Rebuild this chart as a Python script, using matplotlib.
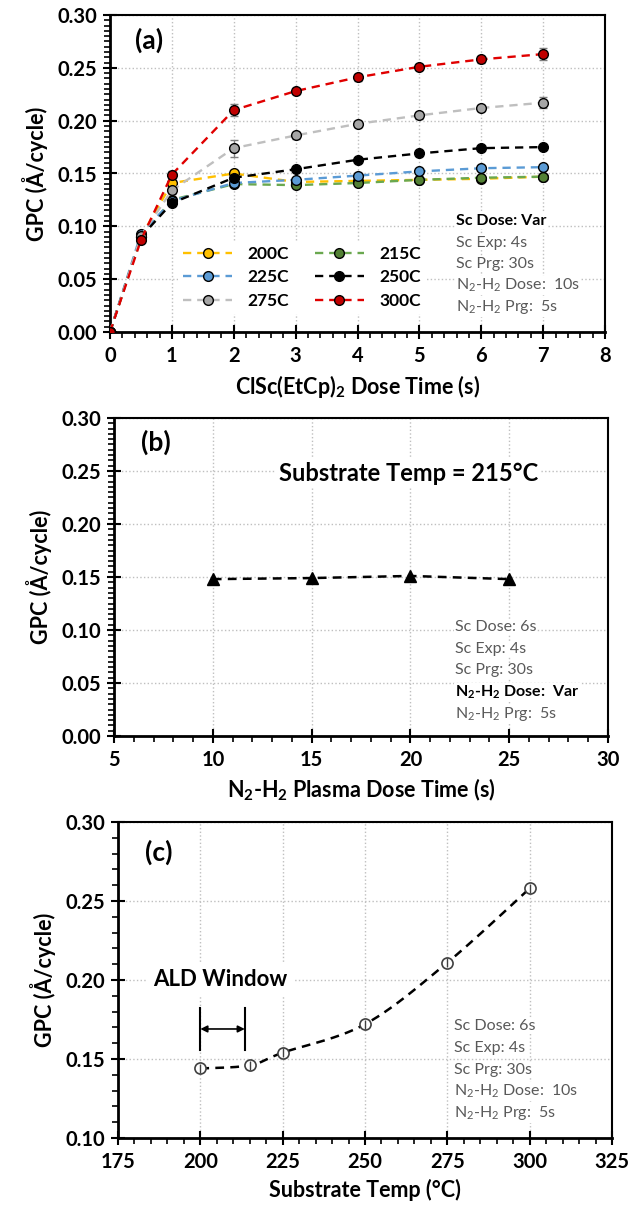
import numpy as np
import matplotlib
matplotlib.use("Agg")
import matplotlib.pyplot as plt
from matplotlib.ticker import MultipleLocator, FormatStrFormatter

plt.rcParams['font.family'] = ['Lato', 'DejaVu Sans']
plt.rcParams['mathtext.fontset'] = 'custom'
plt.rcParams['mathtext.rm'] = 'Lato'
plt.rcParams['mathtext.bf'] = 'Lato:bold'
plt.rcParams['mathtext.it'] = 'Lato:italic'

# ---- panel (a): GPC vs Sc dose time ----
dose_time = [0, 0.5, 1, 2, 3, 4, 5, 6, 7]
temps_a = ['200C', '215C', '225C', '250C', '275C', '300C']
gpc_200 = [0, 0.090, 0.141, 0.150, 0.142, 0.143, 0.144, 0.145, 0.147]
gpc_215 = [0, 0.090, 0.125, 0.140, 0.139, 0.141, 0.144, 0.146, 0.147]
gpc_225 = [0, 0.093, 0.124, 0.141, 0.144, 0.148, 0.152, 0.155, 0.156]
gpc_250 = [0, 0.090, 0.122, 0.146, 0.154, 0.163, 0.169, 0.174, 0.175]
gpc_275 = [0, 0.091, 0.134, 0.174, 0.186, 0.197, 0.205, 0.212, 0.217]
gpc_300 = [0, 0.087, 0.149, 0.210, 0.228, 0.241, 0.251, 0.258, 0.263]
err_275 = [0, 0.002, 0.003, 0.008, 0.003, 0.003, 0.003, 0.003, 0.005]
err_300 = [0, 0.002, 0.003, 0.006, 0.003, 0.003, 0.003, 0.003, 0.006]
err_small = [0, 0.002, 0.002, 0.002, 0.002, 0.002, 0.002, 0.002, 0.002]

# ---- panel (b): GPC vs plasma dose time ----
plasma_time = [10, 15, 20, 25]
gpc_plasma = [0.148, 0.149, 0.151, 0.148]

# ---- panel (c): GPC vs substrate temperature ----
sub_temp = [200, 215, 225, 250, 275, 300]
gpc_temp = [0.144, 0.146, 0.154, 0.172, 0.211, 0.258]
err_temp = [0.003, 0.003, 0.003, 0.003, 0.003, 0.003]
ald_window = (200, 213.5)

line_colors = ['#FFC000', '#6AA84F', '#5B9BD5', '#000000', '#BFBFBF', '#E00000']
face_colors = ['#FFC000', '#538135', '#5B9BD5', '#000000', '#A6A6A6', '#C00000']

TXT_GRAY = '#595959'
TICK_FS = 14.5
LABEL_FS = 15.5


def smooth_curve(x, y, n=40):
    # Excel-like smoothed line (Catmull-Rom through the points)
    p = np.column_stack([x, y]).astype(float)
    out = []
    for i in range(len(p) - 1):
        p0 = p[max(i - 1, 0)]
        p1, p2 = p[i], p[i + 1]
        p3 = p[min(i + 2, len(p) - 1)]
        c1 = p1 + (p2 - p0) / 6
        c2 = p2 - (p3 - p1) / 6
        t = np.linspace(0, 1, n)[:, None]
        seg = ((1 - t) ** 3) * p1 + 3 * ((1 - t) ** 2) * t * c1 + 3 * (1 - t) * t ** 2 * c2 + t ** 3 * p2
        out.append(seg)
    out = np.vstack(out)
    return out[:, 0], out[:, 1]


def style_axes(ax, xmin, xmax, xmaj, xmin_step, ymin, ymax, ymin_step):
    ax.set_xlim(xmin, xmax)
    ax.set_ylim(ymin, ymax)
    ax.xaxis.set_major_locator(MultipleLocator(xmaj))
    ax.xaxis.set_minor_locator(MultipleLocator(xmin_step))
    ax.yaxis.set_major_locator(MultipleLocator(0.05))
    ax.yaxis.set_minor_locator(MultipleLocator(ymin_step))
    ax.yaxis.set_major_formatter(FormatStrFormatter('%.2f'))
    ax.grid(True, which='major', linestyle=':', color='#BFBFBF', linewidth=1.0)
    ax.set_axisbelow(True)
    for s in ax.spines.values():
        s.set_linewidth(1.5)
        s.set_color('black')
    ax.spines['left'].set_linewidth(2)
    ax.spines['bottom'].set_linewidth(2)
    ax.tick_params(which='major', direction='inout', length=10, width=1.5,
                   labelsize=TICK_FS)
    ax.tick_params(axis='y', which='major', pad=4)
    ax.tick_params(axis='x', which='major', pad=5)
    ax.tick_params(which='minor', direction='out', length=4, width=1.2)
    for lab in ax.get_xticklabels() + ax.get_yticklabels():
        lab.set_fontweight('bold')
    ax.set_ylabel('GPC (Å/cycle)', fontsize=LABEL_FS, fontweight='bold', labelpad=7)


def recipe(ax, x, y0, lines, step=0.068):
    for i, (txt, bold) in enumerate(lines):
        ax.text(x, y0 - i * step, txt, transform=ax.transAxes, fontsize=11.5,
                color='black' if bold else TXT_GRAY,
                fontweight='bold' if bold else 'normal', va='center', ha='left',
                bbox=dict(facecolor='white', edgecolor='none', pad=0.5), zorder=5)


fig = plt.figure(figsize=(6.31, 12.09), dpi=100)
W, H = 631, 1209

def rect(l, r, t, b):
    return [l / W, 1 - b / H, (r - l) / W, (b - t) / H]

# ---------------- (a)
ax1 = fig.add_axes(rect(110, 605, 15, 332))
style_axes(ax1, 0, 8, 1, 0.2, 0, 0.30, 0.005)
series = [gpc_200, gpc_215, gpc_225, gpc_250, gpc_275, gpc_300]
errs = [err_small, err_small, err_small, err_small, err_275, err_300]
handles = []
for i, (name, yv) in enumerate(zip(temps_a, series)):
    ax1.errorbar(dose_time, yv, yerr=errs[i], fmt='none', ecolor='#7F7F7F',
                 elinewidth=1, capsize=3, zorder=2 + i)
    h, = ax1.plot(dose_time, yv, linestyle='--', dashes=(3.5, 2.5), lw=1.7,
                  color=line_colors[i], marker='o', markersize=7,
                  markerfacecolor=face_colors[i], markeredgecolor='black',
                  markeredgewidth=1, label=name, zorder=3 + i)
    handles.append(h)
order = [0, 2, 4, 1, 3, 5]
leg = ax1.legend([handles[k] for k in order], [temps_a[k] for k in order], ncol=2,
                 loc='lower left', bbox_to_anchor=(0.12, 0.03), frameon=True,
                 prop={'weight': 'bold', 'size': 12.5}, handlelength=2.8,
                 columnspacing=1.5, labelspacing=0.42, handletextpad=0.9,
                 borderpad=0.3)
leg.get_frame().set_edgecolor('none')
leg.get_frame().set_facecolor('white')
leg.get_frame().set_alpha(1)
ax1.text(0.05, 0.92, '(a)', transform=ax1.transAxes, fontsize=19,
         fontweight='bold', va='center')
recipe(ax1, 0.70, 0.35, [('Sc Dose: Var', True), ('Sc Exp: 4s', False),
                        ('Sc Prg: 30s', False), ('N$_2$-H$_2$ Dose:  10s', False),
                        ('N$_2$-H$_2$ Prg:  5s', False)])
ax1.set_xlabel(r'ClSc(EtCp)$_\mathbf{2}$ Dose Time (s)', fontsize=LABEL_FS,
               fontweight='bold', labelpad=5)

# ---------------- (b)
ax2 = fig.add_axes(rect(114, 608, 418, 736))
style_axes(ax2, 5, 30, 5, 1, 0, 0.30, 0.005)
ax2.plot(plasma_time, gpc_plasma, linestyle='--', dashes=(3.5, 2.5), lw=1.8,
         color='black', marker='^', markersize=9, zorder=3)
ax2.text(0.055, 0.925, '(b)', transform=ax2.transAxes, fontsize=19,
         fontweight='bold', va='center')
ax2.text(0.597, 0.827, 'Substrate Temp = 215°C', transform=ax2.transAxes,
         fontsize=17, fontweight='bold', ha='center', va='center',
         bbox=dict(facecolor='white', edgecolor='none', pad=2))
recipe(ax2, 0.69, 0.343, [('Sc Dose: 6s', False), ('Sc Exp: 4s', False),
                          ('Sc Prg: 30s', False),
                          (r'N$_\mathbf{2}$-H$_\mathbf{2}$ Dose:  Var', True),
                          ('N$_2$-H$_2$ Prg:  5s', False)], step=0.0685)
ax2.set_xlabel(r'N$_\mathbf{2}$-H$_\mathbf{2}$ Plasma Dose Time (s)', fontsize=LABEL_FS,
               fontweight='bold', labelpad=5)

# ---------------- (c)
ax3 = fig.add_axes(rect(118, 612, 822, 1138))
style_axes(ax3, 175, 325, 25, 5, 0.10, 0.30, 0.01)
sx, sy = smooth_curve(sub_temp, gpc_temp)
ax3.plot(sx, sy, linestyle='--', dashes=(3.5, 2.5), lw=1.8, color='black', zorder=2)
ax3.plot(sub_temp, gpc_temp, linestyle='none', marker='o', markersize=8,
         markerfacecolor='white', markeredgecolor='#404040', markeredgewidth=1.2,
         zorder=3)
ax3.errorbar(sub_temp, gpc_temp, yerr=err_temp, fmt='none', ecolor='#404040',
             elinewidth=1, capsize=0, zorder=4)
ax3.text(0.055, 0.905, '(c)', transform=ax3.transAxes, fontsize=19,
         fontweight='bold', va='center')
ax3.text(206, 0.200, 'ALD Window', fontsize=16, fontweight='bold', ha='center',
         va='center', bbox=dict(facecolor='white', edgecolor='none', pad=4))
for xv in ald_window:
    ax3.plot([xv, xv], [0.1555, 0.182], color='black', lw=1.5, zorder=3)
ax3.annotate('', xy=(ald_window[1], 0.169), xytext=(ald_window[0], 0.169),
             arrowprops=dict(arrowstyle='<|-|>', color='black', lw=1.2,
                             mutation_scale=10, shrinkA=0, shrinkB=0))
recipe(ax3, 0.68, 0.353, [('Sc Dose: 6s', False), ('Sc Exp: 4s', False),
                          ('Sc Prg: 30s', False), ('N$_2$-H$_2$ Dose:  10s', False),
                          ('N$_2$-H$_2$ Prg:  5s', False)], step=0.0685)
ax3.set_xlabel('Substrate Temp (°C)', fontsize=LABEL_FS, fontweight='bold', labelpad=5)

fig.savefig('out.png', dpi=100)
